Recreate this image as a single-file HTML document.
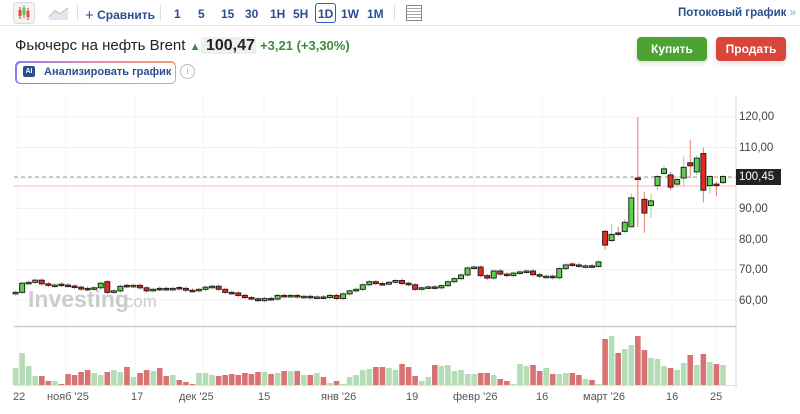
<!DOCTYPE html>
<html><head><meta charset="utf-8"><style>
body{margin:0;width:800px;height:414px;overflow:hidden;background:#fff;font-family:"Liberation Sans",sans-serif;position:relative}
.t{position:absolute;white-space:nowrap}
.tb{font-size:12px;font-weight:bold;color:#2a4f8f}
.btn{position:absolute;height:24px;border-radius:4px;color:#fff;font-weight:bold;font-size:12px;text-align:center;line-height:24px;box-shadow:0 2px 6px rgba(0,0,0,.15)}
</style></head><body>
<div style="position:absolute;left:0;top:25px;width:800px;height:1px;background:#e6e6e6"></div>
<div style="position:absolute;left:13px;top:2px;width:20px;height:20px;border:1px solid #ddd;border-radius:3px;background:#f3f3f3"></div>
<svg class="t" style="left:14px;top:3px" width="20" height="20"><g stroke-width="1"><line x1="6" y1="4" x2="6" y2="16" stroke="#c33"/><rect x="4.5" y="7" width="3" height="6" fill="#e44"/><line x1="10" y1="3" x2="10" y2="15" stroke="#3a3"/><rect x="8.5" y="5" width="3" height="7" fill="#5c5"/><line x1="14" y1="5" x2="14" y2="17" stroke="#c33"/><rect x="12.5" y="8" width="3" height="6" fill="#e44"/></g></svg>
<svg class="t" style="left:48px;top:5px" width="22" height="16"><polyline points="1,12 7,6 12,9 20,3" fill="none" stroke="#9ab" stroke-width="1.3"/><polygon points="1,12 7,6 12,9 20,3 20,15 1,15" fill="#dfe6ee"/></svg>
<div style="position:absolute;left:77px;top:5px;width:1px;height:16px;background:#ddd"></div>
<div class="t tb" style="left:85px;top:6px;font-size:12px"><span style="font-size:15px;font-weight:normal;position:relative;top:1px">+</span> Сравнить</div>
<div style="position:absolute;left:160px;top:5px;width:1px;height:16px;background:#ddd"></div>
<div class="t tb" style="left:174px;top:7px">1</div>
<div class="t tb" style="left:198px;top:7px">5</div>
<div class="t tb" style="left:221px;top:7px">15</div>
<div class="t tb" style="left:245px;top:7px">30</div>
<div class="t tb" style="left:270px;top:7px">1H</div>
<div class="t tb" style="left:293px;top:7px">5H</div>
<div style="position:absolute;left:315px;top:3px;width:19px;height:18px;border:1.5px solid #2a5fc0;border-radius:3px"></div>
<div class="t tb" style="left:318px;top:7px">1D</div>
<div class="t tb" style="left:341px;top:7px">1W</div>
<div class="t tb" style="left:367px;top:7px">1M</div>
<div style="position:absolute;left:394px;top:5px;width:1px;height:16px;background:#ddd"></div>
<div style="position:absolute;left:406px;top:5px;width:14px;height:14px;border:1px solid #888;background:repeating-linear-gradient(#fff 0 2px,#aaa 2px 3px)"></div>
<div class="t tb" style="left:678px;top:7px;font-size:11.5px">Потоковый график <span style="color:#8aa;font-weight:normal">»</span></div>
<div class="t" style="left:15px;top:37px;font-size:15px;color:#222">Фьючерс на нефть Brent <span style="color:#3a8a3a;font-size:11px">▲</span><span style="background:#eef0ee;font-weight:bold;font-size:16px;padding:0 1px"> 100,47</span> <span style="color:#3a8a3a;font-size:13px;font-weight:bold">+3,21 (+3,30%)</span></div>
<div style="position:absolute;left:15px;top:61px;width:161px;height:23px;border-radius:5px;background:linear-gradient(90deg,#8a7cf0,#e88ab0,#f0a070)"></div>
<div style="position:absolute;left:16.5px;top:62.5px;width:158px;height:20px;border-radius:4px;background:#fff"></div>
<div class="t" style="left:23px;top:66px;width:12px;height:11px;background:#2a4f8f;border-radius:2px;color:#fff;font-size:7px;font-weight:bold;text-align:center;line-height:11px">AI</div>
<div class="t tb" style="left:44px;top:66px;font-size:11px">Анализировать график</div>
<div class="t" style="left:180px;top:64px;width:13px;height:13px;border:1px solid #bbb;border-radius:50%;color:#aaa;font-size:9px;text-align:center;line-height:13px">i</div>
<div class="btn" style="left:637px;top:37px;width:70px;background:#4ca331">Купить</div>
<div class="btn" style="left:716px;top:37px;width:70px;background:#d9453a">Продать</div>
<svg id="c" class="t" style="left:0;top:0" width="800" height="414"></svg>
<script>
var s=document.getElementById('c'),h='';
function Y(p){return 117+(120-p)*3.05}
[120,110,100,90,80,70,60].forEach(function(p){h+='<line x1="14" x2="736" y1="'+Y(p)+'" y2="'+Y(p)+'" stroke="#f2f2f2"/>';});
[18,66,135,203,264,337,412,474,542,604,672,716].forEach(function(x){h+='<line x1="'+x+'" x2="'+x+'" y1="95" y2="388" stroke="#f4f4f4"/>';});
h+='<line x1="736" x2="736" y1="95" y2="388" stroke="#ddd"/>';
h+='<line x1="14" x2="736" y1="326.5" y2="326.5" stroke="#ccc" stroke-width="1.5"/>';
h+='<line x1="14" x2="736" y1="385.5" y2="385.5" stroke="#e0e0e0"/>';
h+='<line x1="14" x2="736" y1="186" y2="186" stroke="#f4b8b0"/>';
h+='<line x1="14" x2="736" y1="177" y2="177" stroke="#999" stroke-dasharray="4,3"/>';
h+='<text x="28" y="307" font-size="23" font-weight="bold" fill="#ccc" font-family="Liberation Sans">Investing</text><text x="120" y="307" font-size="17" fill="#ccc" font-family="Liberation Sans">.com</text>';
var C=[62.5,65.5,65.8,66.5,65.3,64.8,64.9,64.9,64.6,64.2,63.6,63.5,64,65.5,62.5,63,64.5,64.5,64.8,64,63,63.5,63.5,63.5,63.8,63.8,63.2,63,63.5,64.2,64.5,63.5,62.5,62.3,61.5,60.8,60.4,59.8,60.5,60.3,61.5,61.3,61.5,61,61.2,60.8,61,60.8,61.5,60.5,62,63,63.5,65,66,65.4,65.2,65.8,66.4,65.4,65,63.5,64,64.3,64,64.7,66,67,68.2,70.5,70.8,68,67.2,69.5,68.5,68,68.8,69.2,69.5,68.3,67.8,67.8,67.3,70.3,71.5,71.5,71.2,71.2,71];
var O={14:66,55:66,60:65.5};
var T=[[71,72.5],[82.5,78,83,76.5],[79.5,81.5,85,79],[82,81.5,84,81],[82.5,85.5,86.5,82],[84,93.5,95,84],[100,99.5,120,84],[93,88.5,95.5,82],[91,92.5,95,87],[97.5,100.5,101,96],[101.5,103,104,101],[101,97,102,96],[98,99.5,100.5,97],[100,103.5,107,97.5],[105,104,112.5,100],[102,106.5,107.5,101],[108,96,110,92],[97.5,100.5,101,95],[98,97.5,99,94],[98.5,100.5,101,98]];
var D=[];for(var i=0;i<C.length;i++){var c=C[i],o=(O[i]!==undefined)?O[i]:(i?C[i-1]:c-0.5);if(Math.abs(o-c)<0.15)o=c+(i%3?0.3:-0.3);D.push([o,c,Math.max(o,c)+0.6,Math.min(o,c)-0.6]);}
T.forEach(function(t){D.push([t[0],t[1],t[2]||Math.max(t[0],t[1])+0.5,t[3]||Math.min(t[0],t[1])-0.5]);});
var V0=[17,32,19,9,9,4,4,1,11,10,13,15,12,10,13,15,13,18,8,12,15,14,17,9,10,5,3,1,12,12,10,9,10,11,10,12,11,13,13,11,12,14,14,14,10,10,12,8,2,4,1,8,10,15,16,18,18,17,15,21,18,9,4,8,20,19,20,14,15,11,11,12,12,10,6,4,0,21,19,20,14,17,11,11,12,12,10,6,5];
var V=V0.slice(0,89).concat([1,46,49,32,36,40,49,35,27,26,19,17,15,22,30,20,31,23,21,20]);
var n=D.length,sp=6.55;
for(var i=0;i<n;i++){var x=723-(n-1-i)*sp,o=D[i][0],c=D[i][1],hi=D[i][2],lo=D[i][3];
 var up=c>=o,col=up?'#5bd24a':'#e5281c',wc=up?'#9bd08a':'#e08070';
 h+='<line x1="'+x+'" x2="'+x+'" y1="'+Y(hi)+'" y2="'+Y(lo)+'" stroke="'+wc+'"/>';
 var t=Y(Math.max(o,c)),b=Y(Math.min(o,c));
 h+='<rect x="'+(x-2.5)+'" y="'+t+'" width="5" height="'+Math.max(b-t,1.5)+'" fill="'+col+'" stroke="#222" stroke-width="1"/>';
 var v=V[i]||1;h+='<rect x="'+(x-2.8)+'" y="'+(385-v)+'" width="5.6" height="'+v+'" fill="'+(up?'#b4dcb6':'#d97272')+'"/>';}
s.innerHTML=h;
</script>
<div class="t" style="left:739px;top:111px;font-size:11.5px;color:#444">120,00</div>
<div class="t" style="left:739px;top:142px;font-size:11.5px;color:#444">110,00</div>
<div class="t" style="left:739px;top:203px;font-size:11.5px;color:#444">90,00</div>
<div class="t" style="left:739px;top:234px;font-size:11.5px;color:#444">80,00</div>
<div class="t" style="left:739px;top:264px;font-size:11.5px;color:#444">70,00</div>
<div class="t" style="left:739px;top:295px;font-size:11.5px;color:#444">60,00</div>
<div class="t" style="left:736px;top:169px;width:42px;height:16px;background:#222;color:#fff;font-size:11.5px;line-height:16px;padding-left:3px">100,45</div>
<div class="t" style="left:13px;top:391px;font-size:11px;color:#555">22</div>
<div class="t" style="left:47px;top:391px;font-size:11px;color:#555">нояб '25</div>
<div class="t" style="left:131px;top:391px;font-size:11px;color:#555">17</div>
<div class="t" style="left:179px;top:391px;font-size:11px;color:#555">дек '25</div>
<div class="t" style="left:258px;top:391px;font-size:11px;color:#555">15</div>
<div class="t" style="left:321px;top:391px;font-size:11px;color:#555">янв '26</div>
<div class="t" style="left:406px;top:391px;font-size:11px;color:#555">19</div>
<div class="t" style="left:453px;top:391px;font-size:11px;color:#555">февр '26</div>
<div class="t" style="left:536px;top:391px;font-size:11px;color:#555">16</div>
<div class="t" style="left:583px;top:391px;font-size:11px;color:#555">март '26</div>
<div class="t" style="left:666px;top:391px;font-size:11px;color:#555">16</div>
<div class="t" style="left:710px;top:391px;font-size:11px;color:#555">25</div>
</body></html>
